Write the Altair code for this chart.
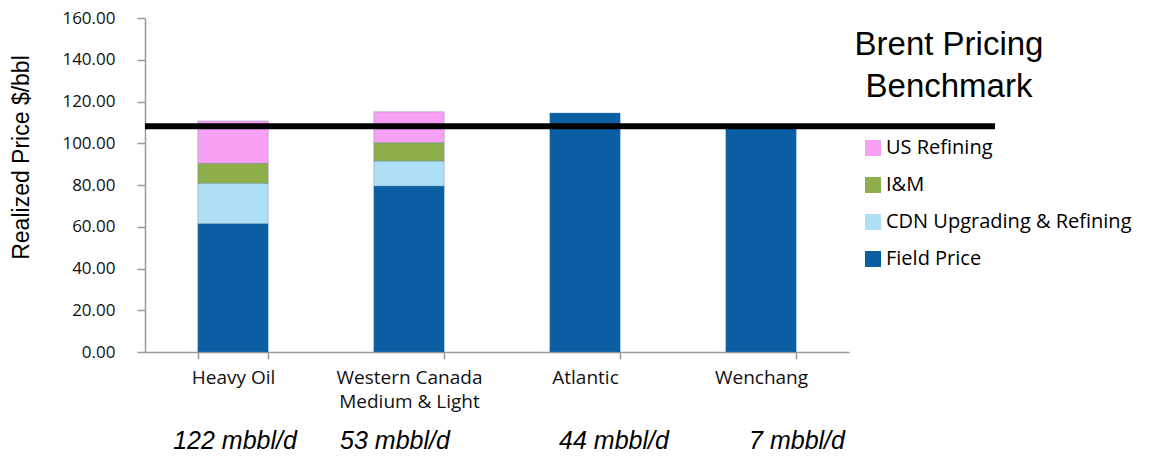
import altair as alt
import pandas as pd

# ---------------- data ----------------
categories = ["Heavy Oil", "Western Canada Medium & Light", "Atlantic", "Wenchang"]
components = ["Field Price", "CDN Upgrading & Refining", "I&M", "US Refining"]
field_price = [61.5, 79.5, 114.5, 108.8]
cdn_upgrading = [19.3, 12.0, 0.0, 0.0]
i_and_m = [9.6, 8.8, 0.0, 0.0]
us_refining = [20.3, 14.8, 0.0, 0.0]
brent_benchmark = [108.2]
volume_labels = ["122 mbbl/d", "53 mbbl/d", "44 mbbl/d", "7 mbbl/d"]
y_ticks = [0, 20, 40, 60, 80, 100, 120, 140, 160]
benchmark_title = ["Brent Pricing", "Benchmark"]

legend_order = ["US Refining", "I&M", "CDN Upgrading & Refining", "Field Price"]
legend_colors = ["#F7A0F4", "#8DAE4A", "#AEDFF6", "#0A5EA4"]

# ---------------- table ----------------
series = [field_price, cdn_upgrading, i_and_m, us_refining]
rows = []
for ci, comp in enumerate(components):
    for ki, cat in enumerate(categories):
        v = series[ci][ki]
        if v > 0:
            rows.append({"category": cat, "component": comp, "value": v, "stack": ci})
df = pd.DataFrame(rows)

W, H = 704, 334
xscale = alt.Scale(domain=categories, paddingInner=0.6, paddingOuter=0.3)
yscale = alt.Scale(domain=[0, 160])

label_expr = ("datum.label == 'Western Canada Medium & Light' ? "
              "['Western Canada', 'Medium & Light'] : datum.label")

bars = alt.Chart(df).mark_bar(stroke="#5d7f99", strokeWidth=0.6, strokeOpacity=0.6).encode(
    x=alt.X("category:N", scale=xscale, sort=categories, title=None,
            axis=alt.Axis(labelExpr=label_expr, labelAngle=0, tickBand="extent",
                          labelFont="Open Sans", labelFontSize=19, labelColor="#111",
                          labelLineHeight=24, labelPadding=9, labelBaseline="top",
                          tickSize=7, tickColor="#999", domainColor="#999",
                          domainWidth=1.5, tickWidth=1.5)),
    y=alt.Y("value:Q", scale=yscale, stack="zero",
            title="Realized Price $/bbl",
            axis=alt.Axis(values=y_ticks, format=".2f", grid=False,
                          labelFont="Open Sans", labelFontSize=17, labelColor="#111",
                          labelPadding=22, tickSize=8, tickColor="#999",
                          domainColor="#999", domainWidth=1.5, tickWidth=1.5,
                          titleFont="Liberation Sans", titleFontSize=23,
                          titleFontWeight="normal", titleColor="#000",
                          titleAngle=-90, titleX=-124, titleY=139,
                          titleAlign="center", titleBaseline="middle")),
    color=alt.Color("component:N",
                    scale=alt.Scale(domain=legend_order, range=legend_colors),
                    legend=alt.Legend(title=None, orient="none", legendX=718, legendY=120,
                                      symbolType="square", symbolSize=256,
                                      symbolStrokeWidth=0, labelFont="Open Sans",
                                      labelFontSize=20, labelColor="#000", labelLimit=400,
                                      labelOffset=3, rowPadding=17, padding=0)),
    order=alt.Order("stack:Q"),
)

rule = alt.Chart(pd.DataFrame({"value": brent_benchmark})).mark_rule(
    color="black", strokeWidth=6).encode(
    y=alt.Y("value:Q", scale=yscale),
    x=alt.value(0), x2=alt.value(850),
)

title_text = alt.Chart(pd.DataFrame({"t": [0]})).mark_text(
    font="Liberation Sans", fontSize=33, lineHeight=42, align="center",
    baseline="middle", color="#000").encode(
    x=alt.value(804), y=alt.value(27), text=alt.value(benchmark_title),
)

vol_df = pd.DataFrame({"category": categories, "label": volume_labels})
vol_dx = [2, -14, 29, 36]  # layout offsets from category centres
vol_layers = []
for i in range(len(categories)):
    vol_layers.append(
        alt.Chart(vol_df.iloc[[i]]).mark_text(
            font="Liberation Sans", fontSize=25, fontStyle="italic",
            align="center", baseline="middle", color="#000", dx=vol_dx[i]).encode(
            x=alt.X("category:N", scale=xscale, sort=categories),
            y=alt.value(423),
            text="label:N",
        )
    )

chart = alt.layer(bars, rule, title_text, *vol_layers).properties(
    width=W, height=H,
    autosize=alt.AutoSizeParams(type="none"),
    padding={"left": 137, "top": 10, "right": 294, "bottom": 104},
).configure_view(strokeWidth=0)

chart.save("out.html", embed_options={"renderer": "svg", "actions": False})
